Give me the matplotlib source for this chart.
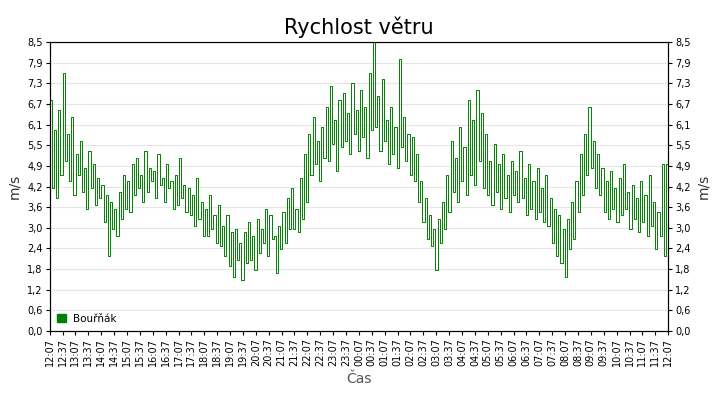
import matplotlib
matplotlib.use("Agg")
import matplotlib.pyplot as plt
from matplotlib.patches import Patch
import numpy as np

# wind speed (m/s), 12 samples per hour starting 12:07 (24 h)
speed = [
 6.8,4.2,5.9,3.9,6.5,4.6,7.6,5.0,  5.8,4.4,6.3,4.0,5.2,4.6,5.6,4.1,
 4.8,3.6,5.3,4.2,4.9,3.7,4.5,3.9,  4.3,3.2,4.0,2.2,3.8,3.0,3.6,2.8,
 4.1,3.3,4.6,3.6,4.4,3.5,4.9,4.0,  5.1,4.2,4.6,3.8,5.3,4.1,4.8,4.4,
 4.7,3.9,5.2,4.3,4.5,3.8,4.9,4.2,  4.4,3.6,4.6,3.7,5.1,3.9,4.3,3.5,
 4.2,3.4,4.0,3.1,4.5,3.3,3.8,2.8,  3.6,2.8,4.0,3.0,3.4,2.6,3.7,2.5,
 3.1,2.2,3.4,1.9,2.9,1.6,3.0,2.1,  2.6,1.5,2.9,2.0,3.2,2.1,2.8,1.8,
 3.3,2.3,3.0,2.6,3.6,2.2,3.4,2.7,  2.8,1.7,3.1,2.4,3.5,2.6,3.9,3.0,
 4.2,3.0,3.6,2.9,4.5,3.3,5.2,3.8,  5.8,4.6,6.3,4.9,5.6,4.4,6.0,5.1,
 6.6,5.0,7.2,5.5,6.2,4.7,6.8,5.4,  7.0,5.6,6.4,5.2,7.3,5.8,6.5,5.3,
 7.1,5.7,6.6,5.1,7.6,5.9,8.5,6.0,  6.9,5.3,7.4,5.6,6.2,4.9,6.6,5.2,
 6.0,4.8,8.0,5.4,6.3,5.0,5.8,4.6,  5.7,4.4,5.2,3.8,4.4,3.2,3.9,2.7,
 3.4,2.5,3.0,1.8,3.3,2.6,3.8,3.0,  4.6,3.5,5.6,4.1,5.1,3.8,6.0,4.4,
 5.4,4.0,6.8,4.6,6.2,4.3,7.1,5.0,  6.4,4.2,5.8,4.0,5.0,3.7,5.5,4.1,
 4.9,3.6,5.2,3.9,4.6,3.5,5.0,4.0,  4.7,3.8,5.3,3.9,4.5,3.4,4.9,3.6,
 4.4,3.3,4.8,3.5,4.2,3.2,4.6,3.1,  3.9,2.6,3.6,2.2,3.4,2.0,3.0,1.6,
 3.3,2.4,3.8,2.7,4.4,3.5,5.2,4.0,  5.8,4.6,6.6,4.8,5.6,4.2,5.2,4.0,
 4.8,3.5,4.4,3.3,4.7,3.6,4.2,3.2,  4.5,3.4,4.9,3.6,4.1,3.0,4.3,3.3,
 3.9,2.9,4.4,3.2,4.0,2.8,4.6,3.1,  3.8,2.4,3.5,2.8,4.9,2.2,4.9,3.0,
]
start_minutes = 12 * 60 + 7
tick_labels = []
for i in range(49):
    m = (start_minutes + 30 * i) % (24 * 60)
    tick_labels.append(f"{m//60:02d}:{m%60:02d}")

n = len(speed)
x = np.arange(n) * 48.0 / (n - 1)

fig = plt.figure(figsize=(7.2, 4.0), dpi=100)
ax = fig.add_axes([0.069, 0.1725, 0.859, 0.7225])
ax.step(x, speed, where="post", color="#008000", lw=0.7)
ax.set_xlim(0, 48)
ax.set_ylim(0, 8.5)
yt = np.linspace(0, 8.5, 15)
ylab = [f"{v:.1f}".replace(".", ",") for v in yt]
ax.set_yticks(yt)
ax.set_yticklabels(ylab, fontsize=7)
ax.set_xticks(range(49))
ax.set_xticklabels(tick_labels, rotation=90, fontsize=7)
ax.grid(axis="y", color="#e6e6e6", lw=0.8)
ax.set_axisbelow(True)
ax.set_ylabel("m/s", fontsize=10, color="#333333")
ax.set_xlabel("Čas", fontsize=10, color="#555555")
ax.set_title("Rychlost větru", fontsize=15)
ax.tick_params(length=3, pad=2)
ax2 = ax.twinx()
ax2.set_ylim(0, 8.5)
ax2.set_yticks(yt)
ax2.set_yticklabels(ylab, fontsize=7)
ax2.set_ylabel("m/s", fontsize=10, color="#333333")
ax2.tick_params(length=3, pad=2)
ax.legend(handles=[Patch(color="#008000", label="Bouřňák")], loc="lower left",
          frameon=False, fontsize=7.5, handlelength=0.9, handleheight=0.9,
          borderaxespad=0.3, handletextpad=0.6)
fig.savefig("out.png", dpi=100)
